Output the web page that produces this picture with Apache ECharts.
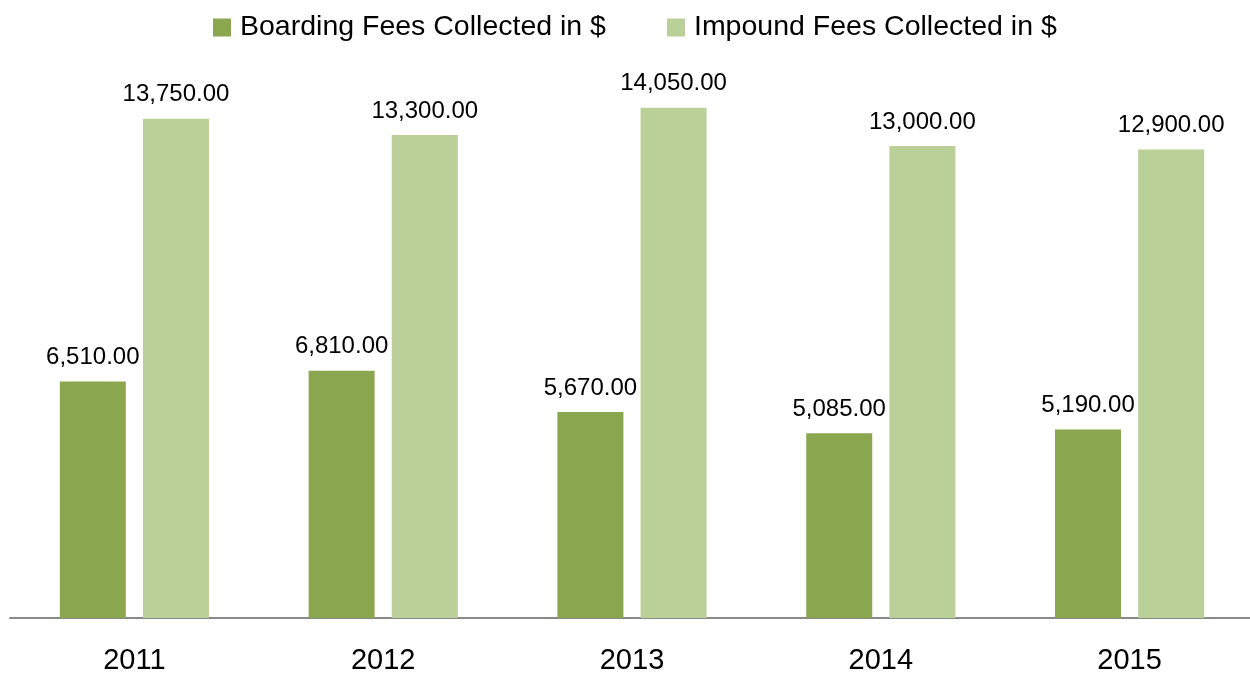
<!DOCTYPE html>
<html>
<head>
<meta charset="utf-8">
<script src="https://cdn.jsdelivr.net/npm/echarts@6/dist/echarts.min.js"></script>
<style>html,body{margin:0;padding:0;background:#fff}#c{width:1250px;height:673px}</style>
</head>
<body>
<div id="c"></div>
<script>
const years = ['2011', '2012', '2013', '2014', '2015'];
const boardingFees = [6510, 6810, 5670, 5085, 5190];
const impoundFees = [13750, 13300, 14050, 13000, 12900];
const seriesNames = ['Boarding Fees Collected in $', 'Impound Fees Collected in $'];

const font = 'Liberation Sans';
const fmt = v => v.toLocaleString('en-US', {minimumFractionDigits: 2, maximumFractionDigits: 2});
const chart = echarts.init(document.getElementById('c'));
const labelCfg = {
  show: true, position: 'top', distance: 12,
  fontFamily: font, fontSize: 24, color: '#000',
  formatter: p => fmt(p.value)
};
chart.setOption({
  animation: false,
  textStyle: {fontFamily: font},
  legend: {
    top: 8, left: 208, itemWidth: 18, itemHeight: 18, itemGap: 61,
    icon: 'rect',
    textStyle: {fontFamily: font, fontSize: 28.5, color: '#000', padding: [0, 0, 0, 4]},
    data: seriesNames
  },
  grid: {left: 10, right: -4, top: 37, bottom: 55, containLabel: false, outerBoundsMode: 'none'},
  xAxis: {
    type: 'category', data: years,
    axisLine: {lineStyle: {color: '#898989', width: 2}},
    axisTick: {show: false},
    axisLabel: {fontFamily: font, fontSize: 29, color: '#000', margin: 28}
  },
  yAxis: {type: 'value', min: 0, max: 16000, show: false, splitLine: {show: false}},
  series: [
    {name: seriesNames[0], type: 'bar', data: boardingFees, barWidth: 66, barGap: '26%',
     itemStyle: {color: '#8AA64F'}, label: labelCfg},
    {name: seriesNames[1], type: 'bar', data: impoundFees, barWidth: 66,
     itemStyle: {color: '#BBCF98'}, label: labelCfg}
  ]
});
</script>
</body>
</html>
